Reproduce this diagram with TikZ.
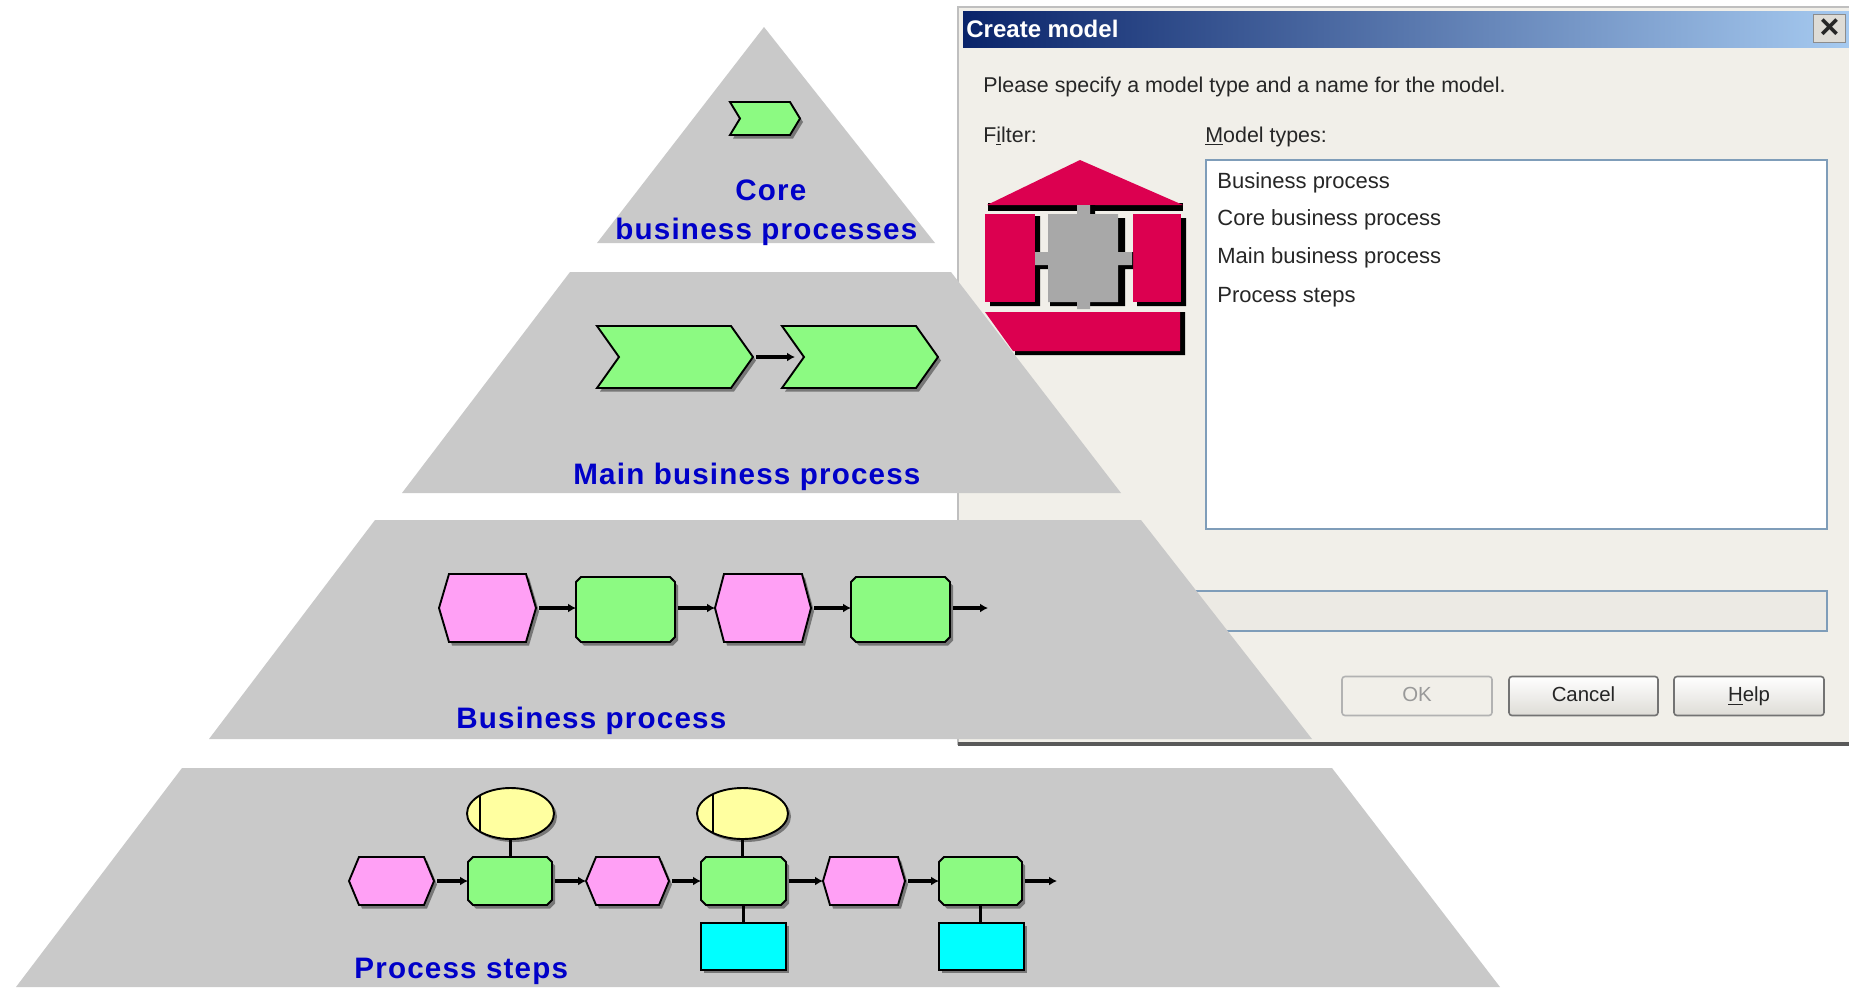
\documentclass[tikz,border=0pt]{standalone}
\usepackage{fontspec}
\setmainfont{Liberation Sans}
\usetikzlibrary{arrows.meta,shapes.geometric}
\newfontfamily\lblfont[LetterSpace=4]{Liberation Sans}
\definecolor{pyr}{HTML}{C9C9C9}
\definecolor{dlg}{HTML}{F1EFE9}
\definecolor{lbl}{HTML}{0000C8}
\definecolor{grn}{HTML}{8CFA82}
\definecolor{pnk}{HTML}{FFA0F5}
\definecolor{yel}{HTML}{FFFFA0}
\definecolor{cya}{HTML}{00FFFF}
\definecolor{shd}{HTML}{777777}
\definecolor{logo}{HTML}{DC0050}
\definecolor{lgray}{HTML}{A8A8A8}
\definecolor{bord}{HTML}{7F9DB9}
\tikzset{
 x=0.5pt,y=-0.5pt,
 tier/.style={fill=pyr,draw=none},
 lbltext/.style={text=lbl,font=\lblfont\bfseries\fontsize{14.8}{17}\selectfont,inner sep=0pt,anchor=base west},
 dtext/.style={font=\fontsize{10.7}{12}\selectfont,text=black!85,inner sep=0pt,anchor=base west},
 itemtext/.style={dtext,font=\fontsize{11}{13}\selectfont},
 shapeline/.style={draw=black,line width=0.95pt,line join=miter},
 shadowfill/.style={fill=shd,draw=none,shift={(3,3.5)}},
 grnshape/.style={fill=grn,shapeline},
 pnkshape/.style={fill=pnk,shapeline},
 flow/.style={line width=1.8pt,-{Latex[length=4pt,width=4.5pt]},shorten <=1.5pt},
 link/.style={line width=1.3pt},
 btn/.style={rounded corners=1.5pt,draw=#1,line width=0.8pt,inner sep=0pt,minimum height={39*0.5pt},text height=7.5pt,text depth=2pt,font=\fontsize{10.2}{12}\selectfont},
 logofill/.style={fill=logo,draw=none},
 logoshadow/.style={fill=black,draw=none},
 logogray/.style={fill=lgray,draw=none},
}
% name x1 y1 x2 y2 : invisible anchor box
\newcommand{\anchorbox}[5]{\node[inner sep=0pt,outer sep=0pt,minimum width={(#4-#2)*0.5pt},minimum height={(#5-#3)*0.5pt}] (#1) at ({(#2+#4)/2},{(#3+#5)/2}) {};}
% green rounded box
\newcommand{\fnbox}[5]{%
 \foreach \st in {shadowfill,grnshape}{%
  \path[\st] ({#2+5},#3)--({#4-5},#3)--(#4,{#3+5})--(#4,{#5-5})--({#4-5},#5)--({#2+5},#5)--(#2,{#5-5})--(#2,{#3+5})--cycle;}%
 \anchorbox{#1}{#2}{#3}{#4}{#5}}
% pink hexagon: name x1 y1 x2 y2 chamfer
\newcommand{\evbox}[6]{%
 \foreach \st in {shadowfill,pnkshape}{%
  \path[\st] ({#2+#6},#3)--({#4-#6},#3)--(#4,{(#3+#5)/2})--({#4-#6},#5)--({#2+#6},#5)--(#2,{(#3+#5)/2})--cycle;}%
 \anchorbox{#1}{#2}{#3}{#4}{#5}}
% chevron: name x1 y1 x2 y2 depth
\newcommand{\chevbox}[6]{%
 \foreach \st in {shadowfill,grnshape}{%
  \path[\st] (#2,#3)--({#4-#6},#3)--(#4,{(#3+#5)/2})--({#4-#6},#5)--(#2,#5)--({#2+#6},{(#3+#5)/2})--cycle;}%
 \anchorbox{#1}{#2}{#3}{#4}{#5}}
% ellipse with bar: name x1 y1 x2 y2 barx
\newcommand{\orgbox}[6]{%
 \fill[shd] ({(#2+#4)/2+3},{(#3+#5)/2+3}) ellipse ({(#4-#2)/2} and {(#5-#3)/2});
 \node[ellipse,inner sep=0pt,outer sep=0pt,fill=yel,draw=black,line width=0.95pt,minimum width={(#4-#2)*0.5pt},minimum height={(#5-#3)*0.5pt}] (#1) at ({(#2+#4)/2},{(#3+#5)/2}) {};
 \begin{scope}
  \clip ({(#2+#4)/2},{(#3+#5)/2}) ellipse ({(#4-#2)/2} and {(#5-#3)/2});
  \draw[line width=0.8pt] (#6,#3)--(#6,#5);
 \end{scope}}
% cyan box
\newcommand{\sysbox}[5]{%
 \fill[shd] ({#2+3},{#3+3}) rectangle ({#4+3},{#5+3});
 \node[inner sep=0pt,outer sep=0pt,fill=cya,draw=black,line width=0.95pt,minimum width={(#4-#2)*0.5pt},minimum height={(#5-#3)*0.5pt}] (#1) at ({(#2+#4)/2},{(#3+#5)/2}) {};}
\begin{document}
\begin{tikzpicture}
\useasboundingbox (0,0) rectangle (1849,987);
\fill[white] (0,0) rectangle (1849,987);
% ---------- dialog
\fill[dlg] (958,7) rectangle (1849,745);
\draw[black!25,line width=0.6pt] (958,745)--(958,7)--(1849,7);
\fill[black!65] (958,742) rectangle (1849,746);
\shade[left color={rgb,255:red,10;green,36;blue,106},right color={rgb,255:red,166;green,202;blue,240}] (963,11) rectangle (1849,47);
\node[font=\bfseries\fontsize{12}{14}\selectfont,text=white,inner sep=0pt,anchor=base west] (title) at (966,37) {Create model};
\node[draw=black!45,fill=dlg!92!black,line width=0.6pt,minimum width=16pt,minimum height=14pt,inner sep=0pt,font=\bfseries\fontsize{17}{17}\selectfont,text=black!85] (closex) at (1829.5,28.5) {×};
\node[dtext] (prompt) at (983,92) {Please specify a model type and a name for the model.};
\node[dtext] (filter) at (983,142) {F\underline{i}lter:};
\node[dtext] (mtypes) at (1205,142) {\underline{M}odel types:};
\node[draw=bord,fill=white,line width=0.8pt,inner sep=0pt,outer sep=0pt,minimum width={621*0.5pt},minimum height={369*0.5pt}] (list) at (1516.5,344.5) {};
\node[itemtext] (it1) at (1217,188) {Business process};
\node[itemtext] (it2) at (1217,225) {Core business process};
\node[itemtext] (it3) at (1217,263) {Main business process};
\node[itemtext] (it4) at (1217,302) {Process steps};
\node[draw=bord,fill=dlg!98!black,line width=0.8pt,inner sep=0pt,minimum width={677*0.5pt},minimum height={40*0.5pt}] (namebox) at (1488.5,611) {};
\node[btn=black!30,minimum width={150*0.5pt},fill=dlg,text=black!40] (ok) at (1417,696) {OK};
\node[btn=black!55,minimum width={149*0.5pt},top color=white,bottom color=dlg!92!black,text=black!85] (cancel) at (1583.5,696) {Cancel};
\node[btn=black!55,minimum width={150*0.5pt},top color=white,bottom color=dlg!92!black,text=black!85] (help) at (1749,696) {\underline{H}elp};
% ---------- logo
\path[logoshadow] (988,203)--(1183,203)--(1183,211)--(988,211)--cycle;
\path[logofill] (1080,160)--(1183,205)--(987,205)--cycle;
\path[logoshadow] (1035,216) rectangle (1040,306) (990,302) rectangle (1040,306);
\path[logofill] (985,214) rectangle (1035,302);
\path[logoshadow] (1180,218) rectangle (1186,306) (1137,302) rectangle (1186,306);
\path[logofill] (1133,214) rectangle (1181,302);
\path[logoshadow] (1117,218) rectangle (1125,306) (1050,302) rectangle (1125,306) (1090,205) rectangle (1095,214) (1132,252) rectangle (1133,269) (1035,265) rectangle (1048,269) (1117,265) rectangle (1132,269);
\path[logogray] (1048,214) rectangle (1118,302) (1077,205) rectangle (1090,214) (1077,302) rectangle (1090,309) (1035,252) rectangle (1048,265) (1118,252) rectangle (1132,265);
\path[logoshadow] (1180,312) rectangle (1185,355) (1015,350) rectangle (1185,355);
\path[logofill] (985,312)--(1180,312)--(1180,351)--(1013,351)--cycle;
% ---------- pyramid
\path[tier] (764,27)--(935,243)--(597,243)--cycle;
\path[tier] (570,272)--(951,272)--(1121,493)--(402,493)--cycle;
\path[tier] (375,520)--(1141,520)--(1312,739)--(209,739)--cycle;
\path[tier] (182,768)--(1332,768)--(1500,987)--(16,987)--cycle;
% labels
\node[lbltext] (lb1a) at (735,200) {Core};
\node[lbltext] (lb1b) at (615,239) {business processes};
\node[lbltext] (lb2) at (573,484) {Main business process};
\node[lbltext] (lb3) at (456,728) {Business process};
\node[lbltext] (lb4) at (354,978) {Process steps};
% core
\chevbox{c0}{730}{102}{800}{135}{10}
% main
\chevbox{c1}{597}{326}{753}{388}{22}
\chevbox{c2}{782}{326}{938}{388}{22}
\draw[flow,shorten >=-6.5pt] (c1.east)--(c2.west);
% business
\evbox{bp1}{439}{574}{536}{642}{10}
\fnbox{bf1}{576}{577}{675}{642}
\evbox{bp2}{715}{574}{811}{642}{9}
\fnbox{bf2}{851}{577}{950}{642}
\coordinate (bend) at (988,608);
\draw[flow] (bp1.east|-bend)--(bf1.west|-bend);
\draw[flow] (bf1.east|-bend)--(bp2.west|-bend);
\draw[flow] (bp2.east|-bend)--(bf2.west|-bend);
\draw[flow] (bf2.east|-bend)--(bend);
% steps
\evbox{sp1}{349}{857}{434}{905}{10}
\fnbox{sf1}{468}{857}{552}{905}
\evbox{sp2}{586}{857}{669}{905}{10}
\fnbox{sf2}{701}{857}{786}{905}
\evbox{sp3}{823}{857}{905}{905}{7}
\fnbox{sf3}{939}{857}{1022}{905}
\coordinate (send) at (1057,881);
\draw[flow] (sp1.east)--(sf1.west);
\draw[flow] (sf1.east)--(sp2.west);
\draw[flow] (sp2.east)--(sf2.west);
\draw[flow] (sf2.east)--(sp3.west);
\draw[flow] (sp3.east)--(sf3.west);
\draw[flow] (sf3.east)--(send);
\orgbox{o1}{467}{788}{554}{839}{480}
\orgbox{o2}{697}{788}{788}{839}{713}
\sysbox{s1}{701}{923}{786}{970}
\sysbox{s2}{939}{923}{1024}{970}
\draw[link] (o1.south)--(sf1.north-|o1.south);
\draw[link] (o2.south)--(sf2.north-|o2.south);
\draw[link] (sf2.south)--(s1.north);
\draw[link] (sf3.south)--(s2.north-|sf3.south);
\end{tikzpicture}
\end{document}
